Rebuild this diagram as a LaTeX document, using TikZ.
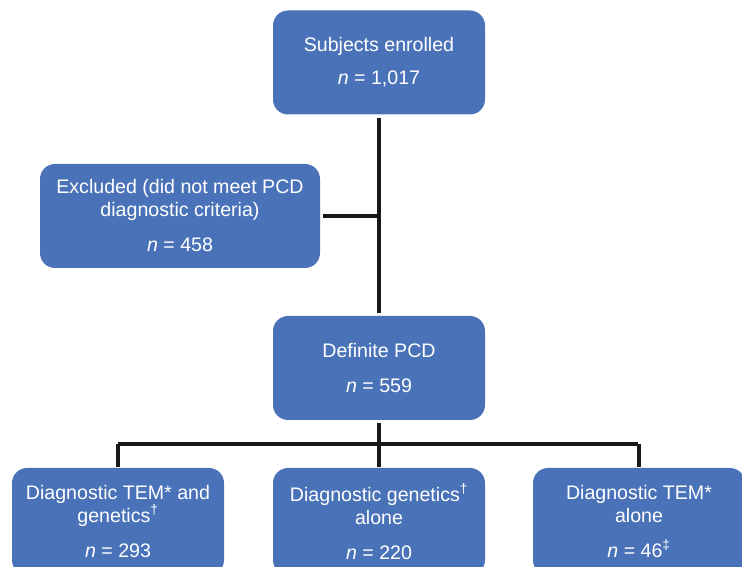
\documentclass[tikz,border=0pt]{standalone}
\usepackage{fontspec}
\setmainfont{Liberation Sans}
\definecolor{boxblue}{RGB}{74,114,184}
\definecolor{linedark}{RGB}{25,25,25}
\begin{document}
\begin{tikzpicture}[x=1pt,y=1pt,
  flowbox/.style={fill=boxblue, rounded corners=15pt, minimum width=212pt, minimum height=104pt,
    text=white, align=center, inner sep=0pt, font=\fontsize{19.6}{23}\selectfont},
  conn/.style={draw=linedark, line width=3.3pt}]
\useasboundingbox (0,0) rectangle (742,567);
\clip (0,0) rectangle (742,567);
\node[flowbox] (top) at (379,504.5) {Subjects enrolled\\[10pt]\textit{n} = 1,017};
\node[flowbox, minimum width=280pt] (exc) at (180,351) {Excluded (did not meet PCD\\diagnostic criteria)\\[12pt]\textit{n} = 458};
\node[flowbox] (pcd) at (379,199) {Definite PCD\\[12pt]\textit{n} = 559};
\node[flowbox, minimum height=107pt] (b1) at (118,45.5) {Diagnostic TEM* and\\genetics\textsuperscript{†}\\[12pt]\textit{n} = 293};
\node[flowbox, minimum height=107pt] (b2) at (379,45.5) {Diagnostic genetics\textsuperscript{†}\\alone\\[12pt]\textit{n} = 220};
\node[flowbox, minimum height=107pt] (b3) at (639,45.5) {Diagnostic TEM*\\alone\\[12pt]\textit{n} = 46\textsuperscript{‡}};
\coordinate (j) at (379,123);
\draw[conn, shorten <=3pt, shorten >=3pt] (top.south) -- (pcd.north);
\draw[conn, shorten <=3pt] (exc.east) -- (exc.east -| top.south);
\draw[conn, shorten <=3pt] (pcd.south) -- (j);
\draw[conn, shorten >=1pt] (j -| b1.north) -- (j -| b3.north);
\draw[conn, shorten >=1pt] (j -| b1.north) -- (b1.north);
\draw[conn, shorten >=1pt] (j) -- (b2.north);
\draw[conn, shorten >=1pt] (j -| b3.north) -- (b3.north);
\end{tikzpicture}
\end{document}
